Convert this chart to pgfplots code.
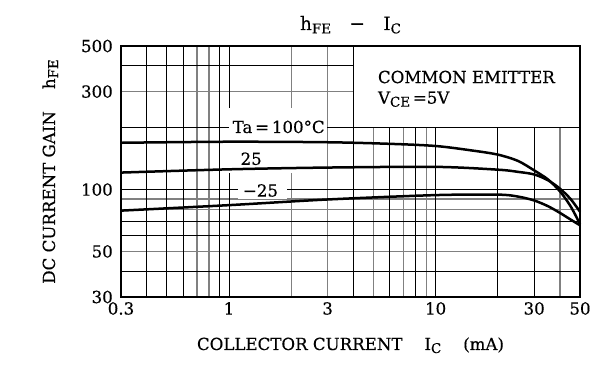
\documentclass[border=0pt]{standalone}
\usepackage{fontspec}
\setmainfont{DejaVu Serif}[FakeBold=0.35]
\usepackage{pgfplots}
\pgfplotsset{compat=1.18}
\newcommand\sub[1]{\raisebox{-0.35ex}{\fontsize{13.5}{14}\selectfont #1}}
\newcommand\lbl{\fontsize{16.7}{19}\selectfont}
\begin{document}
\begin{tikzpicture}
\begin{axis}[
  at={(0,0)}, anchor=south west,
  scale only axis, width=459bp, height=251bp,
  xmode=log, ymode=log,
  xmin=0.3, xmax=50, ymin=30, ymax=500,
  xtick={0.3,1,3,10,30,50}, xticklabels={0.3,1,3,10,30,50},
  ytick={30,50,100,300,500}, yticklabels={30,50,100,300,500},
  minor xtick={0.7,0.8,2,3,5,7,9,40},
  minor ytick={50,80,90,300},
  extra x ticks={0.4,0.5,0.6,0.9,1,4,6,8,10,20,30},
  extra x tick labels={},
  extra y ticks={40,60,70,100,200,400},
  extra y tick labels={},
  extra tick style={grid=major, major grid style={black, line width=0.85bp}},
  xminorgrids=true, yminorgrids=true,
  minor grid style={gray, line width=1.1bp},
  major tick length=0pt, minor tick length=0pt,
  axis line style={line width=2.3bp},
  tick label style={font=\lbl},
  yticklabel style={anchor=east, inner sep=0pt, xshift=-8bp},
  xticklabel style={anchor=north, inner sep=0pt, yshift=-5bp},
  clip=false,
]
% white areas of the chart sheet
\fill[white] ([xshift=0.45bp,yshift=0.45bp]axis cs:4,200) rectangle ([xshift=-1.15bp,yshift=-1.15bp]axis cs:50,500);
\fill[white] ([xshift=0.45bp]axis cs:1,121) rectangle ([xshift=-0.6bp]axis cs:3,250);
\fill[white] (axis cs:1.1,90) rectangle (axis cs:1.9,111);

\addplot[line width=2.5bp, smooth, tension=0.5] coordinates {
 (0.3,169) (1,171) (3,170) (6,167) (10,163) (15,155) (20,148)
 (25,138) (30,124) (35,112) (40,98) (45,83) (50,68)};
\addplot[line width=2.5bp, smooth, tension=0.5] coordinates {
 (0.3,121) (1,125.5) (3,128) (10,129) (20,125) (25,122)
 (30,118.5) (35,111) (40,101) (45,90) (50,78)};
\addplot[line width=2.5bp, smooth, tension=0.5] coordinates {
 (0.3,79) (1,84) (3,89.5) (10,94) (20,94.5) (25,92.5)
 (30,88.5) (35,83) (40,77) (45,71.5) (50,67)};

\node[anchor=base, font=\lbl] at (axis cs:1.74,188.6) {Ta\,=\,100°C};
\node[anchor=base, font=\lbl] at (axis cs:1.28,132) {25};
\node[anchor=base, font=\lbl] at (axis cs:1.42,92.5) {−25};
\node[anchor=base west, font=\lbl, inner sep=0pt] at (axis cs:5.25,330) {COMMON EMITTER};
\node[anchor=base west, font=\lbl, inner sep=0pt] at (axis cs:5.25,262) {V\sub{CE}\,=5V};

\node[anchor=base, font=\fontsize{18.5}{20}\selectfont] at ([yshift=16bp]rel axis cs:0.5,1) {h\sub{FE}\quad−\quad I\sub{C}};
\node[anchor=base, font=\lbl] at ([yshift=-53bp]rel axis cs:0.5,0) {COLLECTOR CURRENT\quad\ I\sub{C}\quad\ (mA)};
\node[anchor=base, rotate=90, font=\lbl] at ([xshift=-66bp]rel axis cs:0,0.5) {DC CURRENT GAIN\quad\ h\sub{FE}};
\end{axis}
\pgfresetboundingbox
\path[use as bounding box] (-121bp,-71bp) rectangle (485bp,297bp);
\end{tikzpicture}
\end{document}
